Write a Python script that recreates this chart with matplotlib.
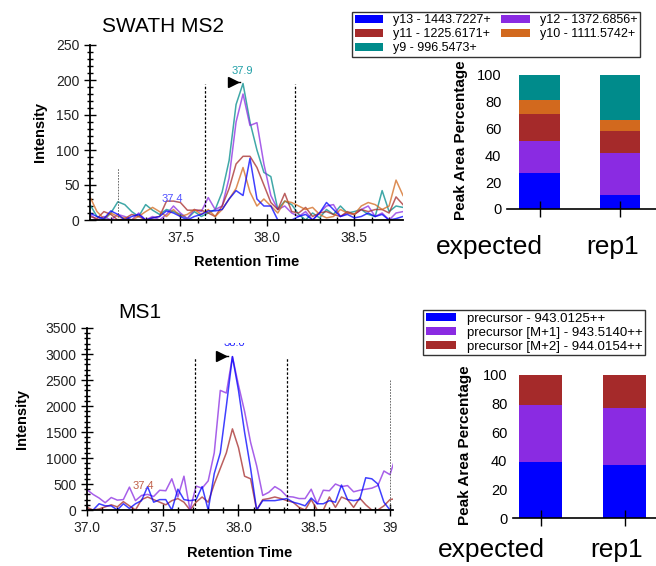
import matplotlib
matplotlib.use("Agg")
import matplotlib.pyplot as plt
from matplotlib.ticker import MultipleLocator, FixedLocator
from matplotlib.transforms import Bbox, TransformedBbox

plt.rcParams['font.family'] = ['Liberation Sans', 'DejaVu Sans']

# --- SWATH MS2 fragment chromatograms ---
ms2_time = [36.98, 37.02, 37.06, 37.10, 37.14, 37.18, 37.22, 37.26, 37.30, 37.34,
            37.38, 37.42, 37.46, 37.50, 37.54, 37.58, 37.62, 37.66, 37.70, 37.74,
            37.78, 37.82, 37.86, 37.90, 37.94, 37.98, 38.02, 38.06, 38.10, 38.14,
            38.18, 38.22, 38.26, 38.30, 38.34, 38.38, 38.42, 38.46, 38.50, 38.54,
            38.58, 38.62, 38.66, 38.70, 38.74, 38.78]
y9 = [22, 5, 0, 10, 26, 22, 12, 5, 22, 14, 8, 15, 12, 8, 2, 12, 5, 10, 15, 40,
      85, 165, 195, 140, 100, 68, 62, 15, 27, 22, 8, 0, 10, 3, 15, 8, 20, 10, 12, 15,
      8, 5, 42, 12, 20, 18]
y12 = [8, 0, 5, 0, 8, 5, 0, 10, 0, 5, 0, 8, 20, 10, 2, 15, 12, 32, 15, 20,
       60, 140, 180, 135, 139, 80, 35, 15, 20, 10, 5, 12, 0, 10, 20, 22, 5, 10, 8, 15,
       20, 5, 10, 0, 10, 12]
y11 = [5, 2, 12, 8, 0, 2, 8, 5, 0, 3, 5, 27, 27, 25, 14, 14, 14, 10, 5, 20,
       45, 80, 91, 91, 75, 50, 25, 15, 38, 12, 10, 18, 5, 10, 12, 8, 5, 12, 8, 15,
       12, 15, 15, 10, 33, 22]
y10 = [33, 12, 2, 10, 5, 3, 0, 5, 12, 18, 12, 5, 15, 5, 8, 15, 8, 15, 5, 15,
       30, 45, 75, 40, 20, 30, 20, 10, 27, 25, 20, 15, 18, 8, 3, 5, 15, 10, 8, 20,
       25, 22, 15, 20, 57, 35]
y13 = [10, 5, 2, 13, 8, 0, 5, 8, 0, 3, 5, 13, 10, 5, 0, 5, 8, 13, 13, 15,
       30, 42, 35, 88, 30, 20, 20, 0, 0, 0, 5, 8, 0, 10, 25, 15, 5, 8, 3, 5,
       10, 5, 8, 0, 2, 5]

# --- MS1 precursor chromatograms ---
ms1_time = [37.00, 37.04, 37.08, 37.12, 37.16, 37.20, 37.24, 37.28, 37.32, 37.36,
            37.40, 37.44, 37.48, 37.52, 37.56, 37.60, 37.64, 37.68, 37.72, 37.76,
            37.80, 37.84, 37.88, 37.92, 37.96, 38.00, 38.04, 38.08, 38.12, 38.16,
            38.20, 38.24, 38.28, 38.32, 38.36, 38.40, 38.44, 38.48, 38.52, 38.56,
            38.60, 38.64, 38.68, 38.72, 38.76, 38.80, 38.84, 38.88, 38.92, 38.96,
            39.00, 39.04]
m0 = [0, 0, 120, 80, 80, 0, 120, 30, 120, 180, 450, 150, 200, 200, 0, 400, 200, 180,
      200, 450, 0, 700, 1100, 2000, 2950, 2300, 1500, 800, 0, 180, 180, 180, 200, 220,
      150, 120, 80, 230, 120, 120, 180, 150, 480, 200, 180, 200, 620, 600, 500, 150, 0, 0]
m1 = [390, 300, 230, 140, 240, 190, 200, 440, 180, 280, 300, 260, 380, 370, 600, 250,
      650, 0, 460, 420, 560, 1100, 2300, 2250, 2950, 2400, 1900, 1300, 850, 280, 340,
      450, 380, 260, 250, 220, 220, 400, 120, 380, 370, 500, 450, 470, 350, 380, 400,
      420, 470, 750, 680, 1050]
m2 = [50, 0, 20, 60, 100, 60, 160, 80, 0, 200, 250, 200, 150, 100, 180, 220, 150, 0,
      150, 250, 150, 500, 800, 1100, 1560, 1200, 650, 600, 0, 200, 220, 250, 220, 180,
      150, 50, 0, 200, 0, 0, 250, 50, 250, 200, 50, 230, 100, 0, 0, 80, 200, 220]

# --- peak area percentages ---
samples = ['expected', 'rep1']
ms2_names = ['y13 - 1443.7227+', 'y12 - 1372.6856+', 'y11 - 1225.6171+',
             'y10 - 1111.5742+', 'y9 - 996.5473+']
ms2_pct = [[27, 10.5], [23.5, 31], [20.5, 16.5], [10, 8.5], [19, 33.5]]
ms1_names = ['precursor - 943.0125++', 'precursor [M+1] - 943.5140++',
             'precursor [M+2] - 944.0154++']
ms1_pct = [[39, 37], [40, 40], [21, 23]]

BLUE, PURPLE, BROWN, ORANGE, TEAL = '#0000ff', '#8a2be2', '#a52a2a', '#d2691e', '#008b8b'
ms2_colors = [BLUE, PURPLE, BROWN, ORANGE, TEAL]
ms1_colors = [BLUE, PURPLE, BROWN]

W, H = 656, 566
fig = plt.figure(figsize=(W / 100, H / 100), dpi=100)


def rect(l, t, r, b):
    return [l / W, 1 - b / H, (r - l) / W, (b - t) / H]


def chrom_style(ax, ymajor, yminor):
    for s in ['top', 'right']:
        ax.spines[s].set_visible(False)
    for s in ['left', 'bottom']:
        ax.spines[s].set_linewidth(1.3)
    ax.yaxis.set_major_locator(MultipleLocator(ymajor))
    ax.yaxis.set_minor_locator(MultipleLocator(yminor))
    ax.tick_params(which='major', direction='inout', length=8, width=1, labelsize=10,
                   labelcolor='#222222')
    ax.tick_params(which='minor', direction='inout', length=4, width=1)
    ax.tick_params(axis='x', which='major', pad=4)
    ax.set_xlabel('Retention Time', fontsize=10.5, fontweight='bold')
    ax.set_ylabel('Intensity', fontsize=10.5, fontweight='bold')


def bar_style(ax, ylabel_pad):
    for s in ['top', 'right', 'left']:
        ax.spines[s].set_visible(False)
    ax.spines['bottom'].set_linewidth(1.2)
    ax.set_yticks([0, 20, 40, 60, 80, 100])
    ax.tick_params(axis='y', length=0, labelsize=10.5, pad=4)
    ax.tick_params(axis='x', direction='inout', length=12, width=1, labelbottom=False)
    ax.set_ylabel('Peak Area Percentage', fontsize=11, fontweight='bold', labelpad=ylabel_pad)


# SWATH MS2 chromatogram
ax1 = fig.add_axes(rect(90, 45, 403, 220))
for vals, c in zip([y9, y12, y11, y10, y13], [TEAL, PURPLE, BROWN, ORANGE, BLUE]):
    ax1.plot(ms2_time, vals, color=c, lw=1.1, alpha=0.75)
ax1.vlines([37.64, 38.16], 0, 194, colors='black', linestyles=(0, (2, 1.5)), lw=0.9)
ax1.vlines([37.14], 0, 75, colors='#555555', linestyles=(0, (2, 1.5)), lw=0.6)
ax1.plot([37.80, 37.84], [197, 197], color='black', lw=1)
ax1.plot([37.80], [197], marker='>', color='black', ms=7)
ax1.text(37.856, 205, '37.9', color='#22a0a8', fontsize=8, ha='center', va='bottom')
ax1.text(37.454, 23, '37.4', color='#5050ff', fontsize=8, ha='center', va='bottom')
ax1.set_xlim(36.98, 38.78)
ax1.set_ylim(0, 250)
chrom_style(ax1, 50, 10)
ax1.xaxis.set_major_locator(FixedLocator([37.5, 38.0, 38.5]))
ax1.xaxis.set_minor_locator(FixedLocator([37.1, 37.2, 37.3, 37.4, 37.6, 37.7, 37.8, 37.9,
                                          38.1, 38.2, 38.3, 38.4, 38.6, 38.7]))
ax1.set_xticklabels(['37.5', '38.0', '38.5'])
ax1.xaxis.set_label_coords(0.5, -0.2)
ax1.yaxis.set_label_coords(-0.137, 0.5)
fig.text(163 / W, 1 - 27 / H, 'SWATH MS2', fontsize=15, ha='center', va='center')

# SWATH MS2 peak areas
ax2 = fig.add_axes(rect(507, 72, 656, 209))
bottom = [0, 0]
bars2 = []
for name, pct, c in zip(ms2_names, ms2_pct, ms2_colors):
    b = ax2.bar([0, 1], pct, width=0.51, bottom=bottom, color=c, label=name)
    bars2.append(b)
    bottom = [bottom[k] + pct[k] for k in range(2)]
ax2.set_xlim(-0.41, 1.45)
ax2.set_ylim(0, 102)
ax2.set_xticks([0, 1])
bar_style(ax2, 6)
for name, xc in zip(samples, [489, 613]):
    fig.text(xc / W, 1 - 247 / H, name, fontsize=19, ha='center', va='center')
order = [0, 2, 4, 1, 3]
leg1 = fig.legend([bars2[i] for i in order], [ms2_names[i] for i in order],
                  loc='upper left', bbox_to_anchor=(352 / W, 1 - 12 / H), ncol=2,
                  fontsize=9, frameon=True, fancybox=False, edgecolor='black',
                  handlelength=2.3, handleheight=0.65, handletextpad=0.8,
                  columnspacing=0.8, labelspacing=0.15, borderpad=0.2, borderaxespad=0)
leg1.get_frame().set_linewidth(1)

# MS1 chromatogram
ax3 = fig.add_axes(rect(87, 328, 393, 510))
for vals, c in zip([m2, m1, m0], [BROWN, PURPLE, BLUE]):
    ax3.plot(ms1_time, vals, color=c, lw=1.1, alpha=0.75)
ax3.vlines([37.71, 38.32], 0, 2940, colors='black', linestyles=(0, (2, 1.5)), lw=0.9)
ax3.vlines([39.0], 0, 2520, colors='#555555', linestyles=(0, (2, 1.5)), lw=0.6)
ax3.plot([37.885, 37.93], [2960, 2960], color='black', lw=1)
ax3.plot([37.885], [2960], marker='>', color='black', ms=7)
ax3.text(37.375, 365, '37.4', color='#c0604a', fontsize=8, ha='center', va='bottom')
t = ax3.text(37.97, 3115, '38.0', color='#2020ff', fontsize=8, ha='center', va='bottom')
t.set_clip_box(TransformedBbox(Bbox([[37.8, 0], [38.2, 3210]]), ax3.transData))
t.set_clip_on(True)
ax3.set_xlim(37.0, 39.02)
ax3.set_ylim(0, 3500)
chrom_style(ax3, 500, 100)
ax3.xaxis.set_major_locator(FixedLocator([37.0, 37.5, 38.0, 38.5, 39.0]))
ax3.xaxis.set_minor_locator(MultipleLocator(0.1))
ax3.set_xticklabels(['37.0', '37.5', '38.0', '38.5', '39'])
ax3.xaxis.set_label_coords(0.5, -0.2)
ax3.yaxis.set_label_coords(-0.19, 0.5)
fig.text(140 / W, 1 - 313 / H, 'MS1', fontsize=15, ha='center', va='center')

# MS1 peak areas
ax4 = fig.add_axes(rect(513, 372, 656, 518))
bottom = [0, 0]
bars4 = []
for name, pct, c in zip(ms1_names, ms1_pct, ms1_colors):
    b = ax4.bar([0, 1], pct, width=0.51, bottom=bottom, color=c, label=name)
    bars4.append(b)
    bottom = [bottom[k] + pct[k] for k in range(2)]
ax4.set_xlim(-0.33, 1.375)
ax4.set_ylim(0, 102)
ax4.set_xticks([0, 1])
bar_style(ax4, 8)
for name, xc in zip(samples, [491, 617]):
    fig.text(xc / W, 1 - 550 / H, name, fontsize=19, ha='center', va='center')
leg2 = fig.legend(bars4, ms1_names, loc='upper left', bbox_to_anchor=(423 / W, 1 - 310 / H),
                  fontsize=9.5, frameon=True, fancybox=False, edgecolor='black',
                  handlelength=2.3, handleheight=0.65, handletextpad=0.8,
                  labelspacing=0.15, borderpad=0.2, borderaxespad=0)
leg2.get_frame().set_linewidth(1)

fig.savefig('out.png', dpi=100)
